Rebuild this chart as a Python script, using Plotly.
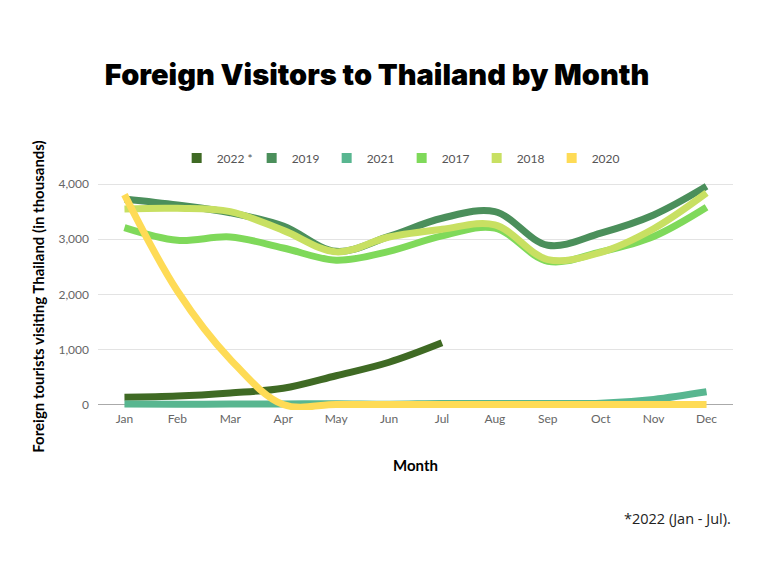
import plotly.graph_objects as go

months = ["Jan", "Feb", "Mar", "Apr", "May", "Jun", "Jul", "Aug", "Sep", "Oct", "Nov", "Dec"]
series_names = ["2022 *", "2019", "2021", "2017", "2018", "2020"]
v2022 = [133, 153, 210, 294, 522, 767, 1120]
v2019 = [3730, 3620, 3480, 3240, 2780, 3050, 3380, 3500, 2890, 3110, 3440, 3960]
v2021 = [11, 6, 7, 9, 15, 5, 18, 16, 18, 22, 92, 230]
v2017 = [3210, 2980, 3040, 2840, 2620, 2780, 3060, 3200, 2600, 2770, 3050, 3580]
v2018 = [3550, 3560, 3500, 3160, 2770, 3040, 3180, 3260, 2630, 2760, 3190, 3840]
v2020 = [3810, 2060, 820, 0, 0, 0, 0, 0, 0, 0, 0, 0]
values = [v2022, v2019, v2021, v2017, v2018, v2020]
colors = ["#3f6a24", "#4b8f5b", "#58b690", "#7fd95a", "#c8e062", "#fedb56"]

fig = go.Figure()
for name, vals, col in zip(series_names, values, colors):
    fig.add_trace(go.Scatter(
        x=months[:len(vals)], y=vals, mode="lines", name=name,
        line=dict(color=col, width=7, shape="spline", smoothing=1.0),
        showlegend=False, hoverinfo="skip"))
# legend swatches (square markers)
for name, col in zip(series_names, colors):
    fig.add_trace(go.Scatter(
        x=[None], y=[None], mode="markers", name=name,
        marker=dict(symbol="square", size=10, color=col)))

fig.update_layout(
    width=768, height=576,
    paper_bgcolor="white", plot_bgcolor="white",
    margin=dict(l=98, r=35, t=183, b=166, autoexpand=False),
    font=dict(family="Lato", color="#666666", size=12),
    title=dict(text="Foreign Visitors to Thailand by Month",
               font=dict(family="Inter", size=29, color="black", weight=900),
               xref="container", x=0.491, xanchor="center",
               yref="container", y=1 - 75 / 576, yanchor="middle"),
    legend=dict(orientation="h", xref="container", x=0.523, xanchor="center",
                yref="container", y=1 - 158 / 576, yanchor="middle",
                entrywidth=30, font=dict(family="Lato", size=12, color="#555555"),
                itemwidth=30),
    xaxis=dict(type="category", range=[-0.5, 11.5], showgrid=False,
               showline=False, ticks="", tickfont=dict(size=12, color="#666666"),
               title=dict(text="Month", font=dict(family="Lato", size=15, color="black", weight="bold"),
                          standoff=35)),
    yaxis=dict(range=[-100, 4020], tickvals=[0, 1000, 2000, 3000, 4000],
               tickformat=",", gridcolor="#e3e3e3", gridwidth=1,
               zeroline=True, zerolinecolor="#aaaaaa", zerolinewidth=1,
               showline=False, ticks="", ticklabelstandoff=8,
               tickfont=dict(size=12, color="#666666"),
               title=dict(text="Foreign tourists visiting Thailand (in thousands)",
                          font=dict(family="Lato", size=15, color="black", weight="bold"),
                          standoff=10)),
    annotations=[dict(text="*2022 (Jan - Jul).", xref="paper", x=1.0, xanchor="right",
                      yref="paper", y=-(518 - 410) / (410 - 183), yanchor="middle",
                      showarrow=False,
                      font=dict(family="Open Sans", size=14.5, color="#222222"))],
)
fig.write_html("out.html")
